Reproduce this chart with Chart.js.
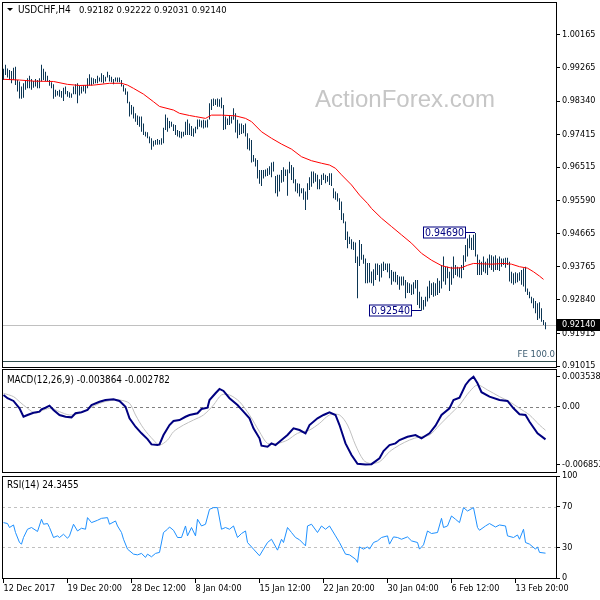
<!DOCTYPE html>
<html><head><meta charset="utf-8">
<script src="https://cdn.jsdelivr.net/npm/chart.js@4"></script>
<style>
html,body{margin:0;padding:0;background:#fff;}
#wrap{position:relative;width:600px;height:600px;overflow:hidden;background:#fff;}
canvas{position:absolute;left:0;top:0;}
</style></head><body>
<div id="wrap">
<canvas id="cMain" width="600" height="600"></canvas>
<canvas id="cMacd" width="600" height="600"></canvas>
<canvas id="cRsi" width="600" height="600"></canvas>
</div>
<script>
// ---------------- DATA ----------------
const symbolName = 'USDCHF,H4';
const lastBar = {open: 0.92182, high: 0.92222, low: 0.92031, close: 0.92140};

const highs = [
0.9923,0.9934,0.9924,0.9920,0.9917,0.9926,0.9929,0.9892,0.9888,0.9874,
0.9883,0.9892,0.9897,0.9904,0.9895,0.9889,0.9895,0.9892,0.9897,0.9934,
0.9923,0.9915,0.9904,0.9892,0.9886,0.9880,0.9865,0.9862,0.9865,0.9862,
0.9871,0.9874,0.9862,0.9858,0.9855,0.9874,0.9880,0.9883,0.9877,0.9874,
0.9878,0.9878,0.9897,0.9908,0.9899,0.9897,0.9895,0.9904,0.9899,0.9911,
0.9906,0.9901,0.9915,0.9906,0.9901,0.9895,0.9899,0.9899,0.9899,0.9892,
0.9878,0.9869,0.9860,0.9832,0.9823,0.9818,0.9800,0.9794,0.9791,0.9791,
0.9772,0.9749,0.9748,0.9736,0.9731,0.9724,0.9726,0.9729,0.9726,0.9731,
0.9760,0.9797,0.9788,0.9779,0.9777,0.9770,0.9768,0.9754,0.9751,0.9749,
0.9749,
0.9777,0.9783,0.9772,0.9765,0.9758,0.9763,0.9783,0.9783,0.9780,0.9782,
0.9780,0.9783,0.9828,0.9839,0.9841,0.9839,0.9841,0.9839,0.9844,0.9823,
0.9791,0.9786,0.9793,0.9791,0.9814,0.9800,0.9782,0.9772,0.9772,0.9768,
0.9772,0.9745,0.9731,0.9726,0.9685,0.9676,0.9671,0.9643,0.9643,0.9643,
0.9645,0.9648,0.9654,0.9664,0.9666,0.9627,0.9630,0.9630,0.9643,0.9651,
0.9645,0.9645,0.9666,0.9657,0.9651,0.9618,0.9607,0.9605,0.9593,0.9593,
0.9584,0.9607,0.9623,0.9639,0.9639,0.9634,0.9630,0.9618,0.9630,0.9634,
0.9630,0.9627,0.9634,0.9634,0.9593,0.9584,0.9579,0.9565,0.9556,0.9524,
0.9501,0.9473,0.9459,0.9452,0.9445,0.9443,0.9404,0.9450,0.9439,0.9409,
0.9399,0.9386,0.9386,0.9363,0.9369,
0.9385,0.9385,0.9381,0.9385,0.9390,0.9385,0.9385,0.9385,0.9367,0.9362,
0.9362,0.9353,0.9349,0.9349,0.9349,0.9339,0.9333,0.9330,0.9327,0.9333,
0.9339,0.9339,0.9307,0.9293,0.9284,0.9293,0.9321,0.9337,0.9330,0.9333,
0.9330,0.9344,0.9337,0.9381,0.9404,0.9376,0.9376,0.9362,0.9376,0.9404,
0.9381,0.9376,0.9373,0.9381,0.9408,0.9436,0.9454,0.9464,0.9456,0.9464,
0.9469,0.9410,0.9395,0.9390,0.9404,0.9390,0.9399,0.9410,0.9408,0.9404,
0.9408,0.9399,0.9404,0.9399,0.9399,0.9401,0.9401,0.9390,0.9362,0.9358,
0.9361,0.9358,0.9361,0.9367,0.9372,0.9376,0.9316,0.9307,0.9293,0.9289,
0.9281,0.9275,0.9278,0.9261,0.9229,0.92222
];
const lows = [
0.9892,0.9906,0.9899,0.9892,0.9883,0.9892,0.9878,0.9860,0.9841,0.9840,
0.9843,0.9865,0.9869,0.9869,0.9865,0.9871,0.9874,0.9869,0.9869,0.9888,
0.9892,0.9889,0.9888,0.9876,0.9869,0.9840,0.9846,0.9849,0.9846,0.9843,
0.9834,0.9853,0.9846,0.9843,0.9843,0.9853,0.9853,0.9828,0.9849,0.9855,
0.9860,0.9855,0.9869,0.9877,0.9877,0.9880,0.9883,0.9883,0.9888,0.9886,
0.9883,0.9888,0.9899,0.9888,0.9886,0.9880,0.9888,0.9886,0.9886,0.9874,
0.9860,0.9851,0.9828,0.9791,0.9797,0.9786,0.9777,0.9768,0.9763,0.9749,
0.9740,0.9736,0.9731,0.9717,0.9699,0.9708,0.9713,0.9713,0.9714,0.9713,
0.9717,0.9754,0.9749,0.9759,0.9763,0.9751,0.9740,0.9736,0.9733,0.9731,
0.9736,
0.9740,0.9740,0.9740,0.9737,0.9735,0.9745,0.9756,0.9763,0.9761,0.9758,
0.9761,0.9761,0.9783,0.9809,0.9820,0.9823,0.9818,0.9818,0.9814,0.9754,
0.9756,0.9768,0.9768,0.9772,0.9782,0.9747,0.9731,0.9740,0.9743,0.9745,
0.9736,0.9701,0.9697,0.9664,0.9666,0.9653,0.9620,0.9605,0.9599,0.9620,
0.9625,0.9627,0.9630,0.9623,0.9639,0.9579,0.9570,0.9584,0.9608,0.9611,
0.9627,0.9572,0.9634,0.9616,0.9607,0.9584,0.9579,0.9570,0.9579,0.9561,
0.9533,0.9561,0.9588,0.9597,0.9607,0.9611,0.9590,0.9590,0.9602,0.9616,
0.9607,0.9611,0.9602,0.9599,0.9565,0.9561,0.9556,0.9533,0.9505,0.9496,
0.9450,0.9427,0.9439,0.9424,0.9422,0.9386,0.9289,0.9378,0.9395,0.9384,
0.9330,0.9330,0.9332,0.9330,0.9323,
0.9339,0.9353,0.9335,0.9346,0.9364,0.9367,0.9361,0.9344,0.9326,0.9335,
0.9333,0.9326,0.9312,0.9324,0.9324,0.9289,0.9303,0.9303,0.9298,0.9300,
0.9316,0.9270,0.9261,0.9254,0.9257,0.9266,0.9280,0.9289,0.9298,0.9293,
0.9296,0.9298,0.9303,0.9316,0.9335,0.9326,0.9344,0.9309,0.9326,0.9344,
0.9353,0.9349,0.9346,0.9344,0.9367,0.9390,0.9404,0.9427,0.9422,0.9422,
0.9404,0.9353,0.9353,0.9353,0.9362,0.9358,0.9353,0.9373,0.9367,0.9362,
0.9367,0.9367,0.9364,0.9376,0.9381,0.9373,0.9381,0.9335,0.9330,0.9326,
0.9330,0.9333,0.9337,0.9326,0.9321,0.9307,0.9298,0.9289,0.9275,0.9261,
0.9247,0.9229,0.9233,0.9224,0.9215,0.92031
];

// moving average (red)
const maIdx = [0,8,15,25,32,38,45,53,59,62,65,70,75,78,85,88,93,96,101,104,109,116,121,124,129,134,139,144,149,154,159,163,166,169,174,178,182,184,189,194,199,204,209,214,219,224,229,232,235,239,244,250,254,258,262,265,268,270];
const maVal = [0.9894,0.9892,0.9889,0.9888,0.9880,0.9877,0.9878,0.9883,0.9883,0.9878,0.9869,0.9853,0.9832,0.9819,0.9809,0.9800,0.9794,0.9791,0.9786,0.9795,0.9795,0.9793,0.9786,0.9777,0.9749,0.9731,0.9715,0.9701,0.9680,0.9669,0.9662,0.9657,0.9648,0.9630,0.9602,0.9574,0.9551,0.9537,0.9510,0.9487,0.9464,0.9441,0.9413,0.9394,0.9379,0.9372,0.9373,0.9380,0.9385,0.9384,0.9383,0.9385,0.9383,0.9376,0.9372,0.9362,0.9350,0.9341];

const priceTicks = [1.00165,0.99265,0.98340,0.97415,0.96515,0.95590,0.94665,0.93765,0.92840,0.91915,0.91015];
const swingHigh = {idx: 236, value: 0.94690};
const swingLow = {idx: 209, value: 0.92540};
const feLevel = {label: 'FE 100.0', value: 0.91154};

// MACD(12,26,9)
const macdIdx = [0,2,5,8,10,12,15,18,19,21,23,25,28,31,34,36,39,42,44,48,51,55,58,61,63,66,69,72,74,77,78,80,83,85,88,91,93,97,99,102,103,106,108,110,113,117,120,123,125,128,129,132,134,136,139,142,145,148,151,153,157,160,163,166,168,171,174,177,181,184,188,190,193,196,198,202,206,209,213,216,219,223,225,228,231,233,235,237,239,243,248,252,255,258,261,263,267,271];
const macdVal = [0.00139,0.00100,0.00068,-0.00019,-0.00119,-0.00098,-0.00071,-0.00059,-0.00031,-0.00012,0.00012,-0.00039,-0.00098,-0.00119,-0.00126,-0.00078,-0.00066,-0.00039,0.00020,0.00059,0.00079,0.00088,0.00068,0.00000,-0.00137,-0.00237,-0.00315,-0.00383,-0.00446,-0.00454,-0.00446,-0.00335,-0.00217,-0.00169,-0.00158,-0.00119,-0.00098,-0.00078,-0.00027,-0.00012,0.00079,0.00159,0.00210,0.00186,0.00100,0.00020,-0.00059,-0.00137,-0.00256,-0.00374,-0.00462,-0.00474,-0.00434,-0.00454,-0.00395,-0.00335,-0.00256,-0.00276,-0.00315,-0.00217,-0.00137,-0.00098,-0.00066,-0.00098,-0.00217,-0.00434,-0.00572,-0.00675,-0.00685,-0.00680,-0.00611,-0.00525,-0.00454,-0.00434,-0.00395,-0.00356,-0.00335,-0.00374,-0.00315,-0.00225,-0.00098,-0.00019,0.00079,0.00107,0.00257,0.00316,0.003538,0.00277,0.00171,0.00119,0.00079,0.00068,-0.00019,-0.00090,-0.00098,-0.00178,-0.00315,-0.003864];
const sigIdx = [0,5,8,12,16,20,24,28,33,38,43,48,53,58,63,66,70,75,78,82,85,90,95,100,105,109,113,118,123,128,132,137,142,147,153,158,163,168,172,176,180,183,188,193,198,203,208,213,218,223,228,233,237,242,248,253,258,263,268,271];
const sigVal = [0.00159,0.00119,0.00059,-0.00019,-0.00078,-0.00039,-0.00019,-0.00059,-0.00098,-0.00078,-0.00019,0.00040,0.00071,0.00079,0.00040,-0.00098,-0.00256,-0.00395,-0.00454,-0.00395,-0.00296,-0.00217,-0.00158,-0.00098,0.00020,0.00139,0.00139,0.00059,-0.00098,-0.00296,-0.00434,-0.00434,-0.00395,-0.00315,-0.00276,-0.00197,-0.00098,-0.00098,-0.00217,-0.00454,-0.00632,-0.00670,-0.00652,-0.00533,-0.00454,-0.00395,-0.00356,-0.00335,-0.00217,-0.00098,0.00020,0.00178,0.00257,0.00198,0.00119,0.00059,-0.00019,-0.00098,-0.00217,-0.002782];
const macdTicks = [0.003538, 0, -0.006853];

// RSI(14)
const rsiIdx = [0,2,3,5,6,8,9,10,12,14,17,19,20,22,23,25,27,28,30,32,33,35,37,39,41,42,44,47,49,52,53,56,57,59,60,62,65,67,69,71,72,74,76,78,80,82,83,85,87,89,91,92,94,96,97,99,101,103,105,107,109,111,113,115,117,119,121,122,125,128,130,132,134,137,139,140,142,144,146,148,151,152,154,157,159,161,163,166,168,171,173,176,177,178,180,182,183,185,187,189,192,193,195,197,199,202,204,207,208,210,212,214,217,219,220,222,224,226,228,230,232,235,237,238,241,243,246,248,251,252,255,257,258,260,261,263,266,267,268,271];
const rsiVal = [54.3,53.4,49.5,52.0,44.6,34.8,33.2,39.7,47.8,49.5,45.6,57.6,52.7,53.4,49.5,39.7,41.3,39.7,42.9,39.0,41.3,52.7,46.1,48.8,47.8,59.2,54.3,56.6,58.5,59.2,52.7,55.9,51.0,44.6,38.0,28.3,23.4,22.7,24.1,20.2,23.4,20.8,24.1,25.1,44.6,47.8,50.0,46.8,39.7,39.7,51.0,41.3,49.5,41.3,57.6,51.0,52.7,67.3,69.0,69.0,47.8,49.5,47.8,51.0,39.7,43.6,46.1,34.8,28.3,21.8,28.3,34.8,38.0,27.3,38.0,34.8,49.5,44.6,39.7,37.5,31.5,51.0,52.7,44.6,51.0,47.8,51.0,41.3,34.8,23.4,22.7,18.5,15.3,30.5,28.3,30.5,28.3,34.8,36.4,39.7,41.3,33.2,40.3,39.7,38.0,40.3,36.4,34.8,28.3,32.5,46.1,43.6,44.6,58.5,49.5,51.0,60.8,57.6,54.3,69.0,65.7,69.0,49.5,46.8,51.0,53.4,50.0,52.0,51.0,41.3,39.7,42.2,38.0,47.8,34.8,33.2,28.3,30.5,25.1,24.3455];
const rsiTicks = [0, 30, 70, 100];
const rsiLevels = [30, 70];

const timeTickIdx = [0,32,64,96,128,160,192,224,256];
const timeTickLabels = ['12 Dec 2017','19 Dec 20:00','28 Dec 12:00','8 Jan 04:00','15 Jan 12:00','22 Jan 20:00','30 Jan 04:00','6 Feb 12:00','13 Feb 20:00'];

// ---------------- STYLE ----------------
const FONT = "'DejaVu Sans Condensed','DejaVu Sans',sans-serif";
const BAR_COLOR = '#0c3654';
const X_MIN = -0.75, X_MAX = 276.25;
const PRICE_MAX = 1.01077, PRICE_MIN = 0.909875;
const MACD_MAX = 0.004461, MACD_MIN = -0.007727;
const AXIS_W = 44;

Chart.defaults.font.family = FONT;
Chart.defaults.font.size = 9;
Chart.defaults.color = '#000';

function zeroPad(s){ s.paddingTop = 0; s.paddingBottom = 0; s.paddingLeft = 0; s.paddingRight = 0; }
function rightAxis(min, max, tickVals, fmt){
  return {
    position: 'right', min, max,
    afterFit(s){ s.width = AXIS_W; zeroPad(s); },
    afterBuildTicks(s){ s.ticks = tickVals.map(v => ({value: v})); },
    ticks: {autoSkip: false, padding: 2, callback: fmt, font: {size: 9, family: FONT}, color: '#000'},
    grid: {drawOnChartArea: false, drawTicks: true, tickLength: 4, color: '#000', lineWidth: 1},
    border: {display: false}
  };
}
function hiddenX(){ return {type: 'linear', min: X_MIN, max: X_MAX, display: false, offset: false}; }
function frame(ctx, a){
  ctx.save();
  ctx.strokeStyle = '#000'; ctx.lineWidth = 1;
  ctx.strokeRect(Math.round(a.left) + 0.5, Math.round(a.top) + 0.5, Math.round(a.right - a.left), Math.round(a.bottom - a.top));
  ctx.restore();
}
const baseOpts = {responsive: false, animation: false, events: [], plugins: {legend: {display: false}, tooltip: {enabled: false}}};

// ---------------- MAIN PRICE PANEL ----------------
const mainDecor = {
  id: 'mainDecor',
  beforeDatasetsDraw(chart){
    const {ctx, chartArea: a, scales: {y}} = chart;
    ctx.save();
    ctx.font = "24px 'Liberation Sans', Arial, sans-serif";
    ctx.fillStyle = '#c6c6c6'; ctx.textAlign = 'left'; ctx.textBaseline = 'alphabetic';
    ctx.fillText('ActionForex.com', 315, 107);
    const py = Math.round(y.getPixelForValue(lastBar.close)) + 0.5;
    ctx.strokeStyle = '#c0c0c0'; ctx.lineWidth = 1;
    ctx.beginPath(); ctx.moveTo(a.left, py); ctx.lineTo(a.right, py); ctx.stroke();
    const fy = Math.round(y.getPixelForValue(feLevel.value)) + 0.5;
    ctx.strokeStyle = '#2f4f4f';
    ctx.beginPath(); ctx.moveTo(a.left, fy); ctx.lineTo(a.right, fy); ctx.stroke();
    ctx.font = '9.5px ' + FONT; ctx.fillStyle = '#3b5b70'; ctx.textAlign = 'right'; ctx.textBaseline = 'bottom';
    ctx.fillText(feLevel.label, a.right - 1, fy - 2);
    ctx.restore();
  },
  afterDatasetsDraw(chart){
    const {ctx, scales: {x, y}} = chart;
    ctx.save();
    [swingHigh, swingLow].forEach(s => {
      const bx = x.getPixelForValue(s.idx), by = Math.round(y.getPixelForValue(s.value)) - 0.5;
      const w = 43, h = 12, r = Math.round(bx) - 10;
      ctx.strokeStyle = '#000080'; ctx.lineWidth = 1;
      ctx.beginPath(); ctx.moveTo(r, by); ctx.lineTo(Math.round(bx) - 1, by); ctx.stroke();
      ctx.fillStyle = '#fff';
      ctx.fillRect(r - w, by - h / 2, w, h);
      ctx.strokeRect(r - w + 0.5, by - h / 2 + 0.5, w - 1, h - 1);
      ctx.fillStyle = '#000080'; ctx.font = '10.5px ' + FONT; ctx.textAlign = 'center'; ctx.textBaseline = 'middle';
      ctx.fillText(s.value.toFixed(5), r - w / 2, by + 0.5);
    });
    ctx.restore();
  },
  afterDraw(chart){
    const {ctx, chartArea: a, scales: {y}} = chart;
    frame(ctx, a);
    ctx.save();
    ctx.fillStyle = '#000';
    ctx.beginPath(); ctx.moveTo(7, 8); ctx.lineTo(13, 8); ctx.lineTo(10, 11); ctx.closePath(); ctx.fill();
    ctx.font = '10px ' + FONT; ctx.textAlign = 'left'; ctx.textBaseline = 'middle';
    ctx.fillText(symbolName, 18, 10.5);
    ctx.font = '9.4px ' + FONT;
    ctx.fillText([lastBar.open, lastBar.high, lastBar.low, lastBar.close].map(v => v.toFixed(5)).join(' '), 79, 10.5);
    const py = Math.round(y.getPixelForValue(lastBar.close));
    ctx.font = '9px ' + FONT;
    ctx.fillStyle = '#000'; ctx.fillRect(a.right + 1, py - 6, 600 - a.right, 12);
    ctx.fillStyle = '#fff'; ctx.fillText(lastBar.close.toFixed(5), a.right + 6, py);
    ctx.restore();
  }
};

new Chart(document.getElementById('cMain'), {
  type: 'bar',
  data: {datasets: [
    {type: 'line', data: maIdx.map((v, i) => ({x: v, y: maVal[i]})), borderColor: '#ff0000', borderWidth: 1, pointRadius: 0, tension: 0},
    {type: 'bar', data: highs.map((h, i) => ({x: i, y: [lows[i], h]})), backgroundColor: BAR_COLOR, borderWidth: 0, barThickness: 1, inflateAmount: 0}
  ]},
  options: Object.assign({}, baseOpts, {
    layout: {padding: {left: 2, top: 2, right: 0, bottom: 233}},
    scales: {
      x: hiddenX(),
      y: rightAxis(PRICE_MIN, PRICE_MAX, priceTicks, v => v.toFixed(5))
    }
  }),
  plugins: [mainDecor]
});

// ---------------- MACD PANEL ----------------
const macdDecor = {
  id: 'macdDecor',
  beforeDatasetsDraw(chart){
    const {ctx, chartArea: a, scales: {y}} = chart;
    ctx.save();
    const zy = Math.round(y.getPixelForValue(0)) + 0.5;
    ctx.strokeStyle = '#808080'; ctx.lineWidth = 1; ctx.setLineDash([3, 3]);
    ctx.beginPath(); ctx.moveTo(a.left, zy); ctx.lineTo(a.right, zy); ctx.stroke();
    ctx.restore();
  },
  afterDraw(chart){
    const {ctx, chartArea: a} = chart;
    frame(ctx, a);
    ctx.save();
    ctx.fillStyle = '#000'; ctx.font = '9.8px ' + FONT; ctx.textAlign = 'left'; ctx.textBaseline = 'middle';
    ctx.fillText('MACD(12,26,9) ' + macdVal[macdVal.length - 1].toFixed(6) + ' ' + sigVal[sigVal.length - 1].toFixed(6), 7, 380.5);
    ctx.restore();
  }
};
new Chart(document.getElementById('cMacd'), {
  type: 'line',
  data: {datasets: [
    {data: macdIdx.map((v, i) => ({x: v, y: macdVal[i]})), borderColor: '#000080', borderWidth: 2, pointRadius: 0, tension: 0},
    {data: sigIdx.map((v, i) => ({x: v, y: sigVal[i]})), borderColor: '#c0c0c0', borderWidth: 1, pointRadius: 0, tension: 0.3}
  ]},
  options: Object.assign({}, baseOpts, {
    layout: {padding: {left: 2, top: 369, right: 0, bottom: 128}},
    scales: {
      x: hiddenX(),
      y: rightAxis(MACD_MIN, MACD_MAX, macdTicks, v => v === 0 ? '0.00' : v.toFixed(6))
    }
  }),
  plugins: [macdDecor]
});

// ---------------- RSI PANEL ----------------
const rsiDecor = {
  id: 'rsiDecor',
  beforeDatasetsDraw(chart){
    const {ctx, chartArea: a, scales: {y}} = chart;
    ctx.save();
    ctx.strokeStyle = '#c0c0c0'; ctx.lineWidth = 1; ctx.setLineDash([3, 3]);
    rsiLevels.forEach(l => {
      const ly = Math.round(y.getPixelForValue(l)) + 0.5;
      ctx.beginPath(); ctx.moveTo(a.left, ly); ctx.lineTo(a.right, ly); ctx.stroke();
    });
    ctx.restore();
  },
  afterDraw(chart){
    const {ctx, chartArea: a} = chart;
    frame(ctx, a);
    ctx.save();
    ctx.fillStyle = '#000'; ctx.font = '9.8px ' + FONT; ctx.textAlign = 'left'; ctx.textBaseline = 'middle';
    ctx.fillText('RSI(14) ' + rsiVal[rsiVal.length - 1].toFixed(4), 7, 485.5);
    ctx.restore();
  }
};
new Chart(document.getElementById('cRsi'), {
  type: 'line',
  data: {datasets: [
    {data: rsiIdx.map((v, i) => ({x: v, y: rsiVal[i]})), borderColor: '#1e90ff', borderWidth: 1, pointRadius: 0, tension: 0}
  ]},
  options: Object.assign({}, baseOpts, {
    layout: {padding: {left: 2, top: 476, right: 0, bottom: 0}},
    scales: {
      x: {
        type: 'linear', min: X_MIN, max: X_MAX, position: 'bottom', offset: false,
        afterFit(s){ s.height = 22; zeroPad(s); },
        afterBuildTicks(s){ s.ticks = timeTickIdx.map(v => ({value: v})); },
        ticks: {autoSkip: false, maxRotation: 0, minRotation: 0, align: 'start', padding: 0, callback: (v, i) => timeTickLabels[i], font: {size: 9, family: FONT}, color: '#000'},
        grid: {drawOnChartArea: false, drawTicks: true, tickLength: 5, color: '#000'},
        border: {display: false}
      },
      y: rightAxis(0, 100, rsiTicks, v => String(v))
    }
  }),
  plugins: [rsiDecor]
});
</script>
</body></html>
